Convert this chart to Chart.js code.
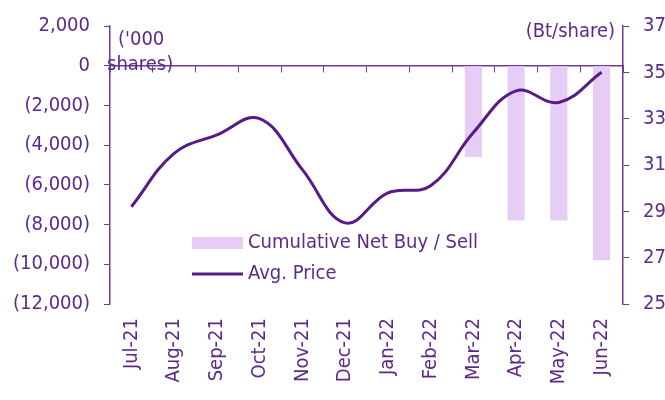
<!DOCTYPE html>
<html>
<head>
<meta charset="utf-8">
<script src="https://cdn.jsdelivr.net/npm/chart.js@4/dist/chart.umd.min.js"></script>
<style>
  html, body { margin: 0; padding: 0; background: #fff; }
  #wrap { width: 665px; height: 400px; position: relative; }
</style>
</head>
<body>
<div id="wrap"><canvas id="c" width="665" height="400"></canvas></div>
<script>
// Monthly categories
const months = ['Jul-21','Aug-21','Sep-21','Oct-21','Nov-21','Dec-21','Jan-22','Feb-22','Mar-22','Apr-22','May-22','Jun-22'];
// Cumulative net buy / sell ('000 shares)
const netBuySell = [null, null, null, null, null, null, null, null, -4600, -7800, -7800, -9800];
// Average price (Bt/share)
const avgPrice = [29.2, 31.5, 32.3, 33.0, 30.8, 28.5, 29.8, 30.1, 32.4, 34.2, 33.7, 35.0];
// Axis ranges
const leftTicks = { min: -12000, max: 2000, step: 2000 };
const rightTicks = { min: 25, max: 37, step: 2 };
const seriesLabels = ['Cumulative Net Buy / Sell', 'Avg. Price'];

const TEXT = '#5c2a8a';
const LINE = '#561b84';
const AXIS = '#6f3a99';
const BAR = '#e6cdf5';
const FONT = '"DejaVu Sans Condensed", "DejaVu Sans", sans-serif';

function fmtThousands(v) {
  const s = Math.abs(v).toLocaleString('en-US');
  return v < 0 ? '(' + s + ')' : s;
}

const overlay = {
  id: 'overlay',
  afterDraw(chart) {
    const ctx = chart.ctx;
    ctx.save();
    ctx.fillStyle = TEXT;
    ctx.font = '20px ' + FONT;
    ctx.textBaseline = 'middle';
    // axis unit captions
    ctx.textAlign = 'left';
    ctx.fillText("('000", 118, 40);
    ctx.fillText('shares)', 107, 65);
    ctx.textAlign = 'right';
    ctx.fillText('(Bt/share)', 615, 32);
    // legend
    const ds = chart.data.datasets;
    ctx.textAlign = 'left';
    ctx.fillStyle = ds[0].backgroundColor;
    ctx.fillRect(192, 237, 51, 12);
    ctx.fillStyle = TEXT;
    ctx.fillText(ds[0].label, 248, 243);
    ctx.strokeStyle = ds[1].borderColor;
    ctx.lineWidth = 3;
    ctx.beginPath();
    ctx.moveTo(192, 274);
    ctx.lineTo(243, 274);
    ctx.stroke();
    ctx.fillText(ds[1].label, 248, 274);
    ctx.restore();
  }
};

new Chart(document.getElementById('c'), {
  type: 'bar',
  data: {
    labels: months,
    datasets: [
      {
        type: 'bar',
        label: seriesLabels[0],
        data: netBuySell,
        backgroundColor: BAR,
        yAxisID: 'y',
        xAxisID: 'x',
        categoryPercentage: 1,
        barPercentage: 0.4,
        order: 2
      },
      {
        type: 'line',
        label: seriesLabels[1],
        data: avgPrice,
        borderColor: LINE,
        borderWidth: 3,
        tension: 0.4,
        pointRadius: 0,
        fill: false,
        yAxisID: 'y2',
        xAxisID: 'x',
        order: 1
      }
    ]
  },
  options: {
    responsive: false,
    animation: false,
    devicePixelRatio: 1,
    layout: { padding: { top: 23, left: 0, right: 0, bottom: 0 } },
    plugins: { legend: { display: false }, tooltip: { enabled: false } },
    scales: {
      x: {
        type: 'category',
        position: 'bottom',
        offset: true,
        grid: { display: false, drawTicks: false },
        border: { display: false },
        ticks: {
          color: TEXT,
          font: { family: FONT, size: 20 },
          minRotation: 90,
          maxRotation: 90,
          autoSkip: false,
          padding: 14
        },
        afterFit(s) { s.height = 96; }
      },
      xZero: {
        type: 'category',
        axis: 'x',
        position: { y: 0 },
        offset: true,
        grid: { display: true, offset: true, drawOnChartArea: false, drawTicks: true, tickLength: 6, color: AXIS, lineWidth: 1 },
        border: { display: true, color: AXIS, width: 1.5 },
        ticks: { display: false }
      },
      y: {
        position: 'left',
        min: leftTicks.min,
        max: leftTicks.max,
        grid: { drawOnChartArea: false, drawTicks: true, tickLength: 6, color: AXIS },
        border: { display: true, color: AXIS, width: 1.5 },
        ticks: {
          stepSize: leftTicks.step,
          color: TEXT,
          font: { family: FONT, size: 20 },
          padding: 14,
          callback: (v) => fmtThousands(v)
        },
        afterFit(s) { s.width = 110; }
      },
      y2: {
        position: 'right',
        min: rightTicks.min,
        max: rightTicks.max,
        grid: { drawOnChartArea: false, drawTicks: true, tickLength: 6, color: AXIS },
        border: { display: true, color: AXIS, width: 1.5 },
        ticks: {
          stepSize: rightTicks.step,
          color: TEXT,
          font: { family: FONT, size: 20 },
          padding: 14
        },
        afterFit(s) { s.width = 42; }
      }
    }
  },
  plugins: [overlay]
});
</script>
</body>
</html>
